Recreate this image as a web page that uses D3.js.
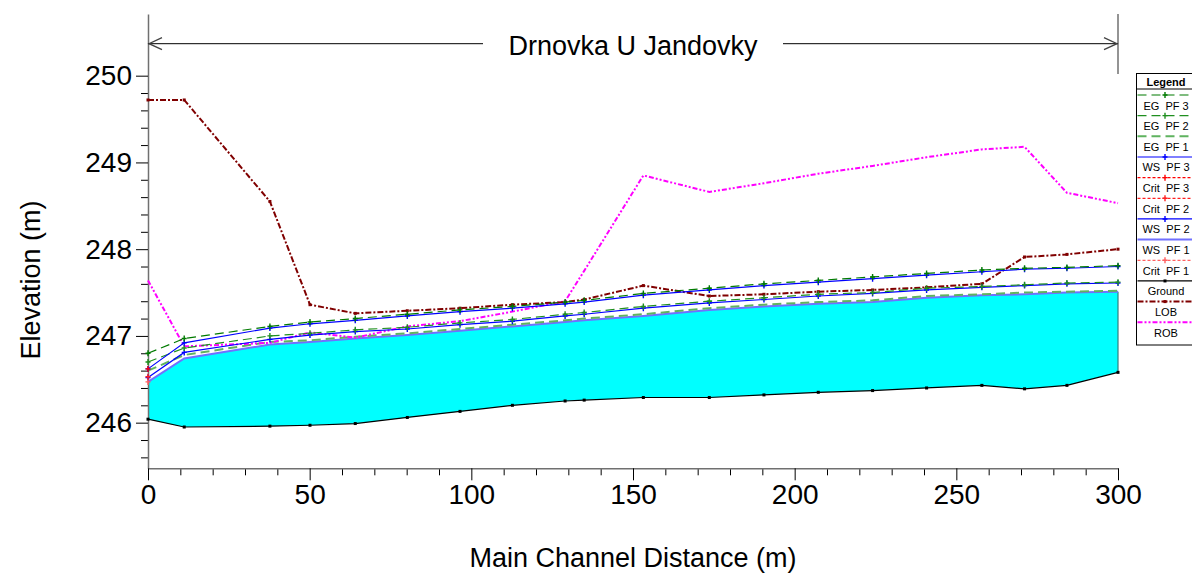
<!DOCTYPE html>
<html><head><meta charset="utf-8">
<script src="https://cdn.jsdelivr.net/npm/d3@7"></script>
<style>
body{margin:0;background:#fff;}
svg{display:block;font-family:"Liberation Sans",Arial,sans-serif;}
</style>
</head><body>
<svg id="c" width="1192" height="573"></svg>
<script>
// ---- data ----
const title = "Drnovka U Jandovky";
const xLabel = "Main Channel Distance (m)";
const yLabel = "Elevation (m)";
const stations = [0, 11.2, 37.7, 50.1, 64.1, 80.2, 96.5, 112.7, 129.0, 134.9, 153.2, 173.6, 190.5, 207.3, 224.1, 240.8, 257.9, 271.1, 284.2, 300];
const egPF3 = [246.80, 246.97, 247.11, 247.16, 247.20, 247.25, 247.30, 247.34, 247.39, 247.41, 247.49, 247.55, 247.60, 247.64, 247.68, 247.72, 247.76, 247.78, 247.79, 247.81];
const wsPF3 = [246.62, 246.92, 247.09, 247.14, 247.18, 247.23, 247.28, 247.32, 247.37, 247.39, 247.47, 247.53, 247.58, 247.62, 247.66, 247.70, 247.74, 247.77, 247.78, 247.80];
const egPF2 = [246.70, 246.86, 247.00, 247.03, 247.07, 247.10, 247.15, 247.19, 247.25, 247.27, 247.34, 247.40, 247.44, 247.48, 247.50, 247.55, 247.57, 247.59, 247.61, 247.62];
const wsPF2 = [246.52, 246.81, 246.96, 247.01, 247.05, 247.08, 247.13, 247.17, 247.23, 247.25, 247.32, 247.38, 247.42, 247.46, 247.49, 247.53, 247.56, 247.58, 247.60, 247.61];
const egPF1 = [246.60, 246.78, 246.93, 246.95, 246.99, 247.03, 247.08, 247.13, 247.18, 247.20, 247.25, 247.32, 247.36, 247.39, 247.41, 247.46, 247.48, 247.50, 247.51, 247.52];
const wsPF1 = [246.47, 246.74, 246.90, 246.93, 246.97, 247.01, 247.06, 247.11, 247.16, 247.18, 247.23, 247.30, 247.34, 247.37, 247.39, 247.44, 247.47, 247.48, 247.50, 247.51];
const ground = [246.04, 245.95, 245.96, 245.97, 245.99, 246.06, 246.13, 246.20, 246.25, 246.26, 246.29, 246.29, 246.32, 246.35, 246.37, 246.40, 246.43, 246.39, 246.43, 246.58];
const lob = [249.72, 249.72, 248.55, 247.36, 247.26, 247.29, 247.32, 247.36, 247.39, 247.42, 247.58, 247.46, 247.48, 247.51, 247.53, 247.56, 247.60, 247.91, 247.94, 248.00];
const rob = [247.64, 246.88, 246.92, 247.04, 246.98, 247.11, 247.17, 247.28, 247.40, 247.75, 248.85, 248.66, 248.76, 248.87, 248.96, 249.06, 249.15, 249.18, 248.65, 248.53];
const critStations = [0];
const critPF3 = [246.62];
const critPF2 = [246.53];
const critPF1 = [246.47];
const xTicks = [0, 50, 100, 150, 200, 250, 300];
const xMinorTicks = [10, 20, 30, 40, 60, 70, 80, 90, 110, 120, 130, 140, 160, 170, 180, 190, 210, 220, 230, 240, 260, 270, 280, 290];
const yTicks = [246, 247, 248, 249, 250];
const yMinorTicks = [245.6, 245.8, 246.2, 246.4, 246.6, 246.8, 247.2, 247.4, 247.6, 247.8, 248.2, 248.4, 248.6, 248.8, 249.2, 249.4, 249.6, 249.8];
const legendNames = ["EG  PF 3", "EG  PF 2", "EG  PF 1", "WS  PF 3", "Crit  PF 3", "Crit  PF 2", "WS  PF 2", "WS  PF 1", "Crit  PF 1", "Ground", "LOB", "ROB"];

// ---- styles ----
const styles = {
  "EG  PF 3":  {color:"#007a00", width:1.2, dash:"9,5", marker:"plus"},
  "EG  PF 2":  {color:"#1f8f1f", width:1.2, dash:"9,5", marker:"plus"},
  "EG  PF 1":  {color:"#5fb35f", width:2, dash:"9,5", marker:null},
  "WS  PF 3":  {color:"#0000ff", width:1.2, dash:null, marker:"plus"},
  "Crit  PF 3":{color:"#ff0000", width:1.2, dash:"3,2", marker:"plus"},
  "Crit  PF 2":{color:"#ff2020", width:1.2, dash:"3,2", marker:"plus"},
  "WS  PF 2":  {color:"#0000ff", width:1.2, dash:null, marker:"plus"},
  "WS  PF 1":  {color:"#7070ff", width:2, dash:null, marker:null},
  "Crit  PF 1":{color:"#ff6060", width:1.2, dash:"3,2", marker:"plus"},
  "Ground":    {color:"#000000", width:1.2, dash:null, marker:"square"},
  "LOB":       {color:"#800000", width:2, dash:"6,2,2,2", marker:"square"},
  "ROB":       {color:"#ff00ff", width:2, dash:"5,2,2,2,2,2", marker:null}
};

const svg = d3.select("#c");
const x = d3.scaleLinear().domain([0, 300]).range([148, 1118]);
const y = d3.scaleLinear().domain([245.474, 250.711]).range([468.3, 14]);

// water fill
const area = d3.area().x((d,i)=>x(stations[i])).y0((d,i)=>y(ground[i])).y1(d=>y(d));
svg.append("path").datum(wsPF1).attr("d", area).attr("fill", "#00ffff");
svg.append("line").attr("x1", x(stations[stations.length-1])).attr("x2", x(stations[stations.length-1]))
  .attr("y1", y(wsPF1[wsPF1.length-1])).attr("y2", y(ground[ground.length-1]))
  .attr("stroke", "#2f7f7f").attr("stroke-width", 1.2);

// axes
function styleAxis(g){ g.select(".domain").attr("stroke","#707070").attr("stroke-width",1.5); g.selectAll(".tick line").attr("stroke","#000"); g.selectAll("text").attr("fill","#000"); }
const yMinor = svg.append("g").attr("transform","translate(148,0)")
  .call(d3.axisLeft(y).tickValues(yMinorTicks).tickSize(7).tickSizeOuter(0).tickFormat(""));
yMinor.select(".domain").remove(); yMinor.selectAll(".tick line").attr("stroke","#000");
const yAx = svg.append("g").attr("transform","translate(148,0)")
  .call(d3.axisLeft(y).tickValues(yTicks).tickSize(12).tickSizeOuter(0).tickPadding(4).tickFormat(d3.format("d")));
yAx.attr("font-size", 28).attr("font-family", "Liberation Sans, Arial, sans-serif");
styleAxis(yAx);
const xMinor = svg.append("g").attr("transform","translate(0,468.3)")
  .call(d3.axisBottom(x).tickValues(xMinorTicks).tickSize(7).tickSizeOuter(0).tickFormat(""));
xMinor.select(".domain").remove(); xMinor.selectAll(".tick line").attr("stroke","#000");
const xAx = svg.append("g").attr("transform","translate(0,468.3)")
  .call(d3.axisBottom(x).tickValues(xTicks).tickSize(12).tickSizeOuter(0).tickPadding(4).tickFormat(d3.format("d")));
xAx.attr("font-size", 28).attr("font-family", "Liberation Sans, Arial, sans-serif");
styleAxis(xAx);

// axis titles
svg.append("text").attr("x", 633).attr("y", 567).attr("text-anchor","middle").attr("font-size", 27).text(xLabel);
svg.append("text").attr("transform","translate(40,280) rotate(-90)").attr("text-anchor","middle").attr("font-size", 27).text(yLabel);

// title bracket
const tY = 43.7;
svg.append("line").attr("x1",x(300)).attr("x2",x(300)).attr("y1",14).attr("y2",74).attr("stroke","#707070").attr("stroke-width",1.5);
svg.append("line").attr("x1",x(0)).attr("x2",483).attr("y1",tY).attr("y2",tY).attr("stroke","#000");
svg.append("line").attr("x1",783).attr("x2",x(300)).attr("y1",tY).attr("y2",tY).attr("stroke","#000");
svg.append("path").attr("d",`M${x(0)+14},${tY-6} L${x(0)+1},${tY} L${x(0)+14},${tY+6}`).attr("fill","none").attr("stroke","#444").attr("stroke-width",1.3);
svg.append("path").attr("d",`M${x(300)-14},${tY-6} L${x(300)-1},${tY} L${x(300)-14},${tY+6}`).attr("fill","none").attr("stroke","#444").attr("stroke-width",1.3);
svg.append("text").attr("x", 633).attr("y", 55).attr("text-anchor","middle").attr("font-size", 27).text(title);

// series
const series = [
  ["Ground", stations, ground],
  ["WS  PF 1", stations, wsPF1],
  ["EG  PF 1", stations, egPF1],
  ["ROB", stations, rob],
  ["LOB", stations, lob],
  ["WS  PF 2", stations, wsPF2],
  ["EG  PF 2", stations, egPF2],
  ["WS  PF 3", stations, wsPF3],
  ["EG  PF 3", stations, egPF3],
  ["Crit  PF 1", critStations, critPF1],
  ["Crit  PF 2", critStations, critPF2],
  ["Crit  PF 3", critStations, critPF3]
];
function drawMarker(g, type, cx, cy, color){
  if(type==="plus"){
    g.append("path").attr("d",`M${cx-2.5},${cy}H${cx+2.5}M${cx},${cy-3}V${cy+3}`).attr("stroke",color).attr("stroke-width",1.4).attr("fill","none");
  } else if(type==="square"){
    g.append("rect").attr("x",cx-1.5).attr("y",cy-1.5).attr("width",3).attr("height",3).attr("fill",color);
  }
}
series.forEach(([name, xs, vals])=>{
  const s = styles[name];
  const line = d3.line().x((d,i)=>x(xs[i])).y(d=>y(d));
  const g = svg.append("g");
  if(vals.length>1){
    g.append("path").datum(vals).attr("d", line).attr("fill","none")
     .attr("stroke", s.color).attr("stroke-width", s.width)
     .attr("stroke-dasharray", s.dash);
  }
  if(s.marker){ vals.forEach((v,i)=>drawMarker(g, s.marker, x(xs[i]), y(v), s.color)); }
});

// legend
const lg = svg.append("g");
const lx = 1136.5, lw = 70, ltop = 73.5;
lg.append("rect").attr("x",lx).attr("y",ltop).attr("width",lw).attr("height",271.5).attr("fill","#fff").attr("stroke","#000");
lg.append("line").attr("x1",lx).attr("x2",lx+lw).attr("y1",89).attr("y2",89).attr("stroke","#000");
lg.append("text").attr("x",1166).attr("y",85.5).attr("text-anchor","middle").attr("font-size",11).attr("font-weight","bold").text("Legend");
legendNames.forEach((name,i)=>{
  const s = styles[name];
  const ly = 95 + i*20.66;
  lg.append("line").attr("x1",lx+1).attr("x2",lx+lw).attr("y1",ly).attr("y2",ly)
    .attr("stroke",s.color).attr("stroke-width",s.width).attr("stroke-dasharray",s.dash);
  if(s.marker) drawMarker(lg, s.marker, 1165, ly, s.color);
  lg.append("text").attr("x",1166).attr("y",ly+14.5).attr("text-anchor","middle").attr("font-size",11)
    .attr("xml:space","preserve").style("white-space","pre").text(name);
});
</script>
</body></html>
